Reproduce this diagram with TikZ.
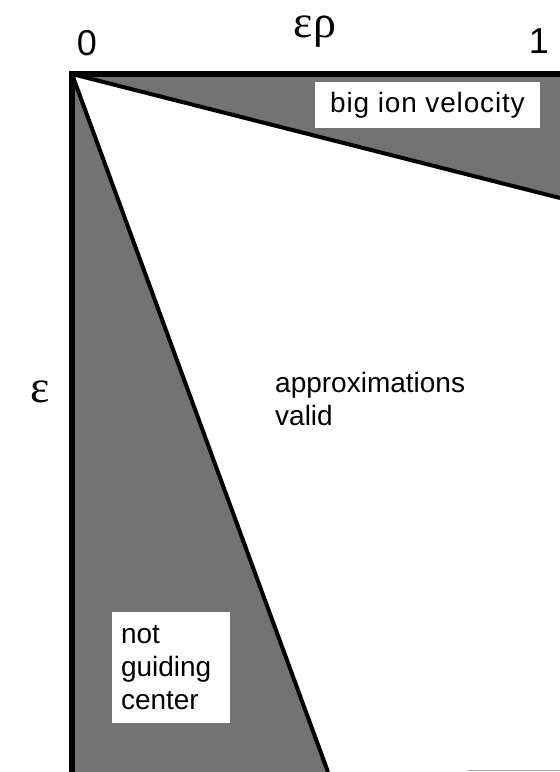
\documentclass[tikz,border=0pt]{standalone}
\usepackage{fontspec}
\setmainfont{Liberation Sans}
\newfontfamily\greekfont{Liberation Serif}
\usetikzlibrary{positioning, calc}

\begin{document}
\begin{tikzpicture}[
  x=1pt, y=-1pt,
  hatch/.style={fill=black!55, draw=none},
  border/.style={line width=5.5pt, line cap=rect},
  split/.style={line width=4pt},
  regionbox/.style={fill=white, inner sep=0pt, font=\fontsize{28}{33}\selectfont},
  axislabel/.style={inner sep=0pt, anchor=base, font=\fontsize{36}{36}\selectfont},
  greeklabel/.style={inner sep=0pt, anchor=base, font=\greekfont\fontsize{46}{46}\selectfont}
]
\useasboundingbox (0,0) rectangle (560,772);

% corners of the (eps rho, eps) plane
\coordinate (origin) at (72,74);
\coordinate (topright) at (560,74);
\coordinate (ionend) at (560,198);
\coordinate (gcend) at (328,772);
\coordinate (bottomleft) at (72,772);

% shaded regions
\fill[hatch] (origin) -- (topright) -- (ionend) -- cycle;
\fill[hatch] (origin) -- (gcend) -- (bottomleft) -- cycle;

% boundaries
\draw[border] (origin) -- (topright);
\draw[border] (origin) -- (bottomleft);
\draw[split] (origin) -- (ionend);
\draw[split] (origin) -- (gcend);

% axis labels
\node[axislabel] (zero) at (87,55) {0};
\node[axislabel] (one) at (539,53) {1};
\node[greeklabel] (erho) at (315,37) {ερ};
\node[greeklabel] (eps) at (40,402) {ε};

% region labels
\node[regionbox, minimum width=225pt, minimum height=46pt] (bigion) at (427.5,105) {\addfontfeature{LetterSpace=3}big ion velocity};
\node[regionbox, anchor=north west, align=left] (valid) at (275,372) {approximations\\valid};
\node[regionbox, minimum width=118pt, minimum height=111pt, align=left, text width=100pt] (notgc) at (171,667.5) {not\\guiding\\center};

% faint rule at the bottom
\draw[gray!70, line width=1pt] (468,770) -- (560,770);

\end{tikzpicture}
\end{document}
